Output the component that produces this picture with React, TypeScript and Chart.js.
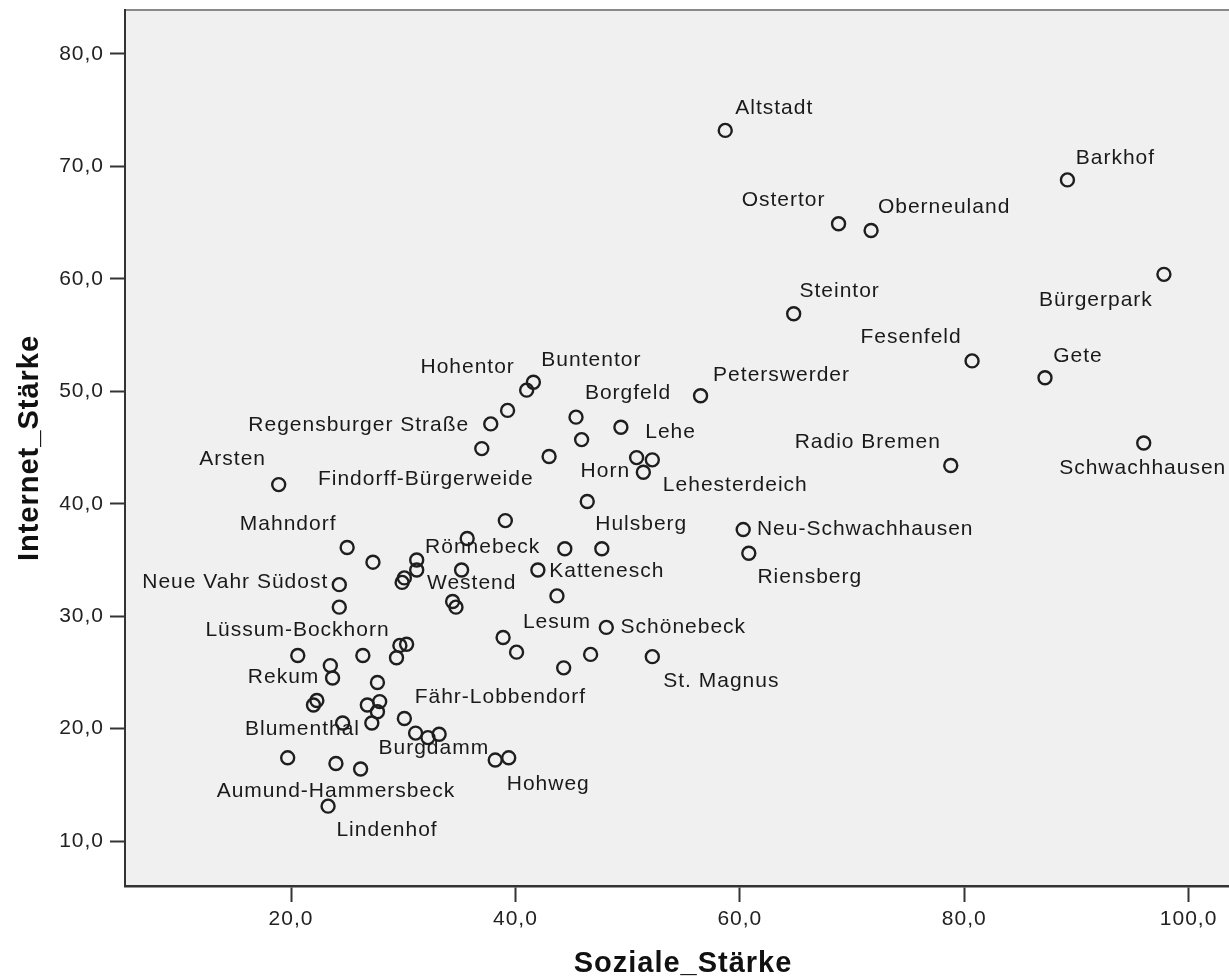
import React, { useEffect, useRef } from 'react';
import { Chart, registerables } from 'chart.js';

Chart.register(...registerables);

// Bremen districts: social strength vs. internet strength ('' = point without a label)
const districts: string[] = [
  'Altstadt', 'Barkhof', 'Ostertor', 'Oberneuland', 'Steintor', 'Bürgerpark', 'Fesenfeld', 'Gete',
  'Peterswerder', 'Radio Bremen', 'Schwachhausen', 'Neu-Schwachhausen', 'Riensberg', 'Buntentor',
  'Hohentor', '', 'Regensburger Straße', 'Findorff-Bürgerweide', 'Borgfeld', '', '', '',
  'Lehe', 'Lehesterdeich', 'Horn', 'Hulsberg', 'Arsten', '', 'Mahndorf', '', 'Neue Vahr Südost', '',
  'Rönnebeck', 'Westend', '', '', '', '', '', '', 'Kattenesch', 'Lesum', '', '', 'Schönebeck', '', '',
  '', 'St. Magnus', '', '', '', 'Rekum', '', 'Lüssum-Bockhorn', '', '', '', '', 'Blumenthal', '', '',
  '', 'Burgdamm', '', 'Fähr-Lobbendorf', '', '', '', '', 'Aumund-Hammersbeck', '', 'Lindenhof', 'Hohweg', '',
];

const sozialeStaerke: number[] = [
  58.7, 89.2, 68.8, 71.7, 64.8, 97.8, 80.7, 87.2,
  56.5, 78.8, 96.0, 60.3, 60.8, 41.6,
  41.0, 39.3, 37.8, 37.0, 45.4, 45.9, 43.0, 49.4,
  50.8, 52.2, 51.4, 46.4, 18.9, 39.1, 25.0, 27.3, 24.3, 24.3,
  31.2, 31.2, 30.1, 29.9, 35.7, 35.2, 44.4, 47.7, 42.0, 43.7, 34.4, 34.7, 48.1, 38.9, 40.1,
  46.7, 52.2, 44.3, 20.6, 23.5, 23.7, 26.4, 29.4, 29.7, 30.3, 27.7, 22.3, 22.0, 26.8, 27.9,
  27.7, 27.2, 24.6, 30.1, 31.1, 32.2, 33.2, 19.7, 24.0, 26.2, 23.3, 38.2, 39.4,
];

const internetStaerke: number[] = [
  73.2, 68.8, 64.9, 64.3, 56.9, 60.4, 52.7, 51.2,
  49.6, 43.4, 45.4, 37.7, 35.6, 50.8,
  50.1, 48.3, 47.1, 44.9, 47.7, 45.7, 44.2, 46.8,
  44.1, 43.9, 42.8, 40.2, 41.7, 38.5, 36.1, 34.8, 32.8, 30.8,
  35.0, 34.1, 33.4, 33.0, 36.9, 34.1, 36.0, 36.0, 34.1, 31.8, 31.3, 30.8, 29.0, 28.1, 26.8,
  26.6, 26.4, 25.4, 26.5, 25.6, 24.5, 26.5, 26.3, 27.4, 27.5, 24.1, 22.5, 22.1, 22.1, 22.4,
  21.5, 20.5, 20.5, 20.9, 19.6, 19.2, 19.5, 17.4, 16.9, 16.4, 13.1, 17.2, 17.4,
];

const xTickValues: number[] = [20, 40, 60, 80, 100];
const yTickValues: number[] = [10, 20, 30, 40, 50, 60, 70, 80];

const xTitle = 'Soziale_Stärke';
const yTitle = 'Internet_Stärke';

// Where each point label sits relative to its marker (pixels, text centre)
const labelOffsets: Record<string, [number, number]> = {
  'Altstadt': [49, -22],
  'Barkhof': [48, -22],
  'Ostertor': [-55, -24],
  'Oberneuland': [73, -23],
  'Steintor': [46, -22],
  'Bürgerpark': [-68, 26],
  'Fesenfeld': [-61, -24],
  'Gete': [33, -22],
  'Peterswerder': [81, -21],
  'Radio Bremen': [-83, -23],
  'Schwachhausen': [-1, 25],
  'Neu-Schwachhausen': [122, 0],
  'Riensberg': [61, 24],
  'Buntentor': [58, -22],
  'Hohentor': [-59, -23],
  'Regensburger Straße': [-132, 1],
  'Findorff-Bürgerweide': [-56, 31],
  'Borgfeld': [52, -24],
  'Lehe': [34, -25],
  'Lehesterdeich': [83, 25],
  'Horn': [-38, -1],
  'Hulsberg': [54, 23],
  'Arsten': [-46, -25],
  'Mahndorf': [-59, -23],
  'Neue Vahr Südost': [-104, -2],
  'Rönnebeck': [66, -13],
  'Westend': [55, 13],
  'Kattenesch': [69, 1],
  'Lesum': [0, 26],
  'Schönebeck': [77, 0],
  'St. Magnus': [69, 25],
  'Rekum': [-49, -1],
  'Lüssum-Bockhorn': [-99, -28],
  'Blumenthal': [-11, 24],
  'Burgdamm': [62, 25],
  'Fähr-Lobbendorf': [96, -21],
  'Aumund-Hammersbeck': [0, 28],
  'Lindenhof': [59, 24],
  'Hohweg': [53, 24],
};

const FONT = "'Liberation Sans', Arial, sans-serif";
const CANVAS_W = 1241;
const CANVAS_H = 980;

const fmt = (v: number) => v.toFixed(1).replace('.', ',');

// Grey plot background and the thin top frame line
const plotFrame = {
  id: 'plotFrame',
  beforeDraw(chart: any) {
    const { ctx, chartArea: a } = chart;
    ctx.save();
    ctx.fillStyle = '#f0f0f0';
    ctx.fillRect(a.left, a.top, a.right - a.left, a.bottom - a.top);
    ctx.strokeStyle = '#8a8a8a';
    ctx.lineWidth = 2;
    ctx.beginPath();
    ctx.moveTo(a.left, a.top);
    ctx.lineTo(a.right, a.top);
    ctx.stroke();
    ctx.restore();
    (ctx as any).letterSpacing = '1px';
  },
};

// District names next to their markers
const pointLabels = {
  id: 'pointLabels',
  afterDatasetsDraw(chart: any) {
    const { ctx } = chart;
    const meta = chart.getDatasetMeta(0);
    ctx.save();
    ctx.font = `21px ${FONT}`;
    ctx.fillStyle = '#1a1a1a';
    ctx.textAlign = 'center';
    ctx.textBaseline = 'middle';
    meta.data.forEach((pt: any, i: number) => {
      const name = districts[i];
      if (!name) return;
      const [dx, dy] = labelOffsets[name] || [0, -22];
      ctx.fillText(name, pt.x + dx, pt.y + dy);
    });
    ctx.restore();
  },
};

export default function App() {
  const canvasRef = useRef<HTMLCanvasElement | null>(null);

  useEffect(() => {
    if (!canvasRef.current) return;
    const points = sozialeStaerke.map((x, i) => ({ x, y: internetStaerke[i] }));
    const tickFont = { family: FONT, size: 21 };
    const titleFont = { family: FONT, size: 29, weight: 'bold' as const, lineHeight: 1 };

    const chart = new Chart(canvasRef.current, {
      type: 'scatter',
      data: {
        datasets: [
          {
            data: points,
            pointStyle: 'circle',
            pointRadius: 6.5,
            pointHoverRadius: 6.5,
            borderWidth: 2.4,
            borderColor: '#1e1e1e',
            backgroundColor: 'rgba(0,0,0,0)',
          },
        ],
      },
      options: {
        responsive: false,
        animation: false,
        events: [],
        layout: { autoPadding: false, padding: { top: 10, right: 0, bottom: 0, left: 0 } },
        plugins: {
          legend: { display: false },
          tooltip: { enabled: false },
        },
        scales: {
          x: {
            type: 'linear',
            position: 'bottom',
            min: 5.2,
            max: 104.67,
            afterBuildTicks: (s: any) => {
              s.ticks = xTickValues.map((value) => ({ value }));
            },
            afterFit: (s: any) => {
              s.height = 94;
              s.paddingLeft = 0;
              s.paddingRight = 0;
              s.paddingTop = 0;
              s.paddingBottom = 0;
            },
            grid: {
              display: true,
              drawOnChartArea: false,
              drawTicks: true,
              tickLength: 16,
              tickWidth: 2,
              tickColor: '#333333',
            },
            border: { display: true, color: '#333333', width: 2.5 },
            ticks: {
              padding: 5,
              color: '#222222',
              font: tickFont,
              maxRotation: 0,
              autoSkip: false,
              callback: (v: any) => fmt(Number(v)),
            },
            title: {
              display: true,
              text: xTitle,
              color: '#111111',
              font: titleFont,
              padding: { top: 0, bottom: 1.5 },
            },
          },
          y: {
            type: 'linear',
            position: 'left',
            min: 6.0,
            max: 83.91,
            afterBuildTicks: (s: any) => {
              s.ticks = yTickValues.map((value) => ({ value }));
            },
            afterFit: (s: any) => {
              s.width = 125;
              s.paddingLeft = 0;
              s.paddingRight = 0;
              s.paddingTop = 0;
              s.paddingBottom = 0;
            },
            grid: {
              display: true,
              drawOnChartArea: false,
              drawTicks: true,
              tickLength: 15,
              tickWidth: 2,
              tickColor: '#333333',
            },
            border: { display: true, color: '#333333', width: 2 },
            ticks: {
              padding: 6,
              color: '#222222',
              font: tickFont,
              autoSkip: false,
              callback: (v: any) => fmt(Number(v)),
            },
            title: {
              display: true,
              text: yTitle,
              color: '#111111',
              font: titleFont,
              padding: { top: 15.5, bottom: 0 },
            },
          },
        },
      } as any,
      plugins: [plotFrame, pointLabels],
    });

    return () => {
      chart.destroy();
    };
  }, []);

  return (
    <div
      style={{
        position: 'absolute',
        left: 0,
        top: 0,
        width: 1229,
        height: 980,
        overflow: 'hidden',
        background: '#ffffff',
      }}
    >
      <canvas
        ref={canvasRef}
        width={CANVAS_W}
        height={CANVAS_H}
        style={{ display: 'block', width: CANVAS_W, height: CANVAS_H }}
      />
    </div>
  );
}
